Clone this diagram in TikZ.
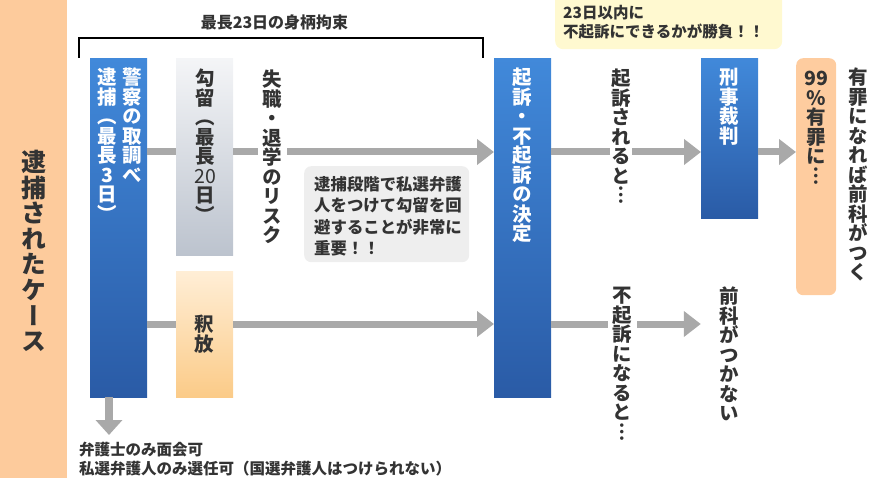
\documentclass[tikz,border=0pt]{standalone}
\usepackage{fontspec}
\setmainfont{Noto Sans CJK JP}
\newfontfamily\vjp{Noto Sans CJK JP}[RawFeature=+vert]
\usetikzlibrary{arrows.meta}
\newcommand\myvfont[2]{\vjp\bfseries\fontsize{#1}{#2}\selectfont\lineskiplimit-40pt\relax}
\definecolor{txt}{HTML}{333333}
\definecolor{conngray}{HTML}{A9A9A9}
\definecolor{bandorange}{HTML}{FDCB9C}
\definecolor{bluetop}{HTML}{4189DA}
\definecolor{bluebot}{HTML}{2A5BA6}
\definecolor{graytop}{HTML}{F4F5F7}
\definecolor{graybot}{HTML}{BCC3CE}
\definecolor{shakutop}{HTML}{FFEED6}
\definecolor{shakubot}{HTML}{FBCB88}
\definecolor{notegray}{HTML}{EEEEEE}
\definecolor{noteyellow}{HTML}{FFF9D0}
\definecolor{pctorange}{HTML}{FECC9F}
\tikzset{
  boxbase/.style={draw=none, inner sep=0pt, anchor=north west, minimum width=57pt},
  bluebox/.style={boxbase, top color=bluetop, bottom color=bluebot},
  graybox/.style={boxbase, top color=graytop, bottom color=graybot},
  shakubox/.style={boxbase, top color=shakutop, bottom color=shakubot},
  vtext/.style={font={\myvfont{19.5}{19.5}},
    align=center, inner sep=0pt, anchor=north, text=txt},
  vwhite/.style={vtext, text=white},
  htext/.style={font=\bfseries\fontsize{15.5}{18.5}\selectfont, align=left, inner sep=0pt,
    anchor=north west, text=txt},
  conn/.style={draw=conngray, line width=7pt},
  arr/.style={conn, -{Triangle[length=17pt,width=25pt]}},
  darr/.style={draw=conngray, line width=8pt, -{Triangle[length=15pt,width=26pt]}},
}
\begin{document}
\begin{tikzpicture}[x=1pt,y=-1pt]
\useasboundingbox (0,0) rectangle (880,478);
% left band
\node[draw=none, fill=bandorange, inner sep=0pt, anchor=north west, minimum width=67pt, minimum height=478pt] (band) at (0,0) {};
\node[vtext, font={\myvfont{25}{25.6}}] (bandtxt) at (33.5,150) {逮\\捕\\さ\\れ\\た\\ケ\\ー\\ス};

% top bracket
\node[htext, font=\bfseries\fontsize{16}{18}\selectfont, anchor=center] (toplabel) at (274.5,22) {最長23日の身柄拘束};
\coordinate (brL) at (79,58);
\coordinate (brR) at (483,58);
\draw[line width=1.2pt, black] (brL) -- (79,38) -- (483,38) -- (brR);

% yellow note
\node[draw=none, fill=noteyellow, rounded corners=8pt, inner sep=0pt, anchor=north west, minimum width=227pt, minimum height=59pt] (yellow) at (555,-10) {};
\node[htext, font=\bfseries\fontsize{15.5}{19}\selectfont] (yellowtxt) at (563,5) {23日以内に\\不起訴にできるかが勝負！！};

% boxes
\node[bluebox, minimum height=339pt] (police) at (90,58) {};
\node[graybox, minimum height=197pt] (kouryu) at (176,58) {};
\node[shakubox, minimum height=126pt] (shaku) at (176,271) {};
\node[bluebox, minimum height=339pt] (decide) at (494,58) {};
\node[bluebox, minimum height=160pt] (keiji) at (701,58) {};
\node[draw=none, fill=pctorange, rounded corners=7pt, inner sep=0pt, anchor=north west, minimum width=40pt, minimum height=237pt] (pctbox) at (796,58) {};
\node[draw=none, fill=notegray, rounded corners=7pt, inner sep=0pt, anchor=north west, minimum width=165pt, minimum height=96pt] (note) at (304,166) {};

% texts
\node[vwhite] (policeR) at (132,68) {警\\察\\の\\取\\調\\べ};
\node[vwhite] (policeL) at (107,68) {逮\\捕\\（\\最\\長\\3\\日\\）};
\node[vtext] (kouryutxt) at (205,69) {勾\\留\\（\\最\\長\\{\mdseries 20}\\日\\）};
\node[vtext, minimum width=29pt] (risk) at (272.5,70) {失\\職\\・\\退\\学\\の\\リ\\ス\\ク};
\node[vtext, anchor=center] (shakutxt) at (shaku.center) {釈\\放};
\node[vwhite] (decidetxt) at (522.5,68) {起\\訴\\・\\不\\起\\訴\\の\\決\\定};
\node[vtext, minimum width=22pt] (kiso) at (621,69) {起\\訴\\さ\\れ\\る\\と\\︙};
\node[vwhite] (keijitxt) at (729.5,68) {刑\\事\\裁\\判};
\node[vtext] (pcttxt) at (816,71) {99\\％\\有\\罪\\に\\︙};
\node[vtext] (yuzai) at (858,68) {有\\罪\\に\\な\\れ\\ば\\前\\科\\が\\つ\\く};
\node[vtext, minimum width=29pt] (fukiso) at (622.5,287) {不\\起\\訴\\に\\な\\る\\と\\︙};
\node[vtext, minimum width=57pt] (zenka) at (729.5,287) {前\\科\\が\\つ\\か\\な\\い};

\node[htext, font=\bfseries\fontsize{16.4}{21.5}\selectfont] (notetxt) at (314,176) {逮捕段階で私選弁護\\人をつけて勾留を回\\避することが非常に\\重要！！};
\node[htext] (bottomtxt) at (79,442) {弁護士のみ面会可\\私選弁護人のみ選任可（国選弁護人はつけられない）};

% connectors
\coordinate (rowA) at (0,152);
\coordinate (rowB) at (0,324);
\coordinate (downX) at (109,0);
\coordinate (downEnd) at (109,435);
\draw[conn] (police.east |- rowA) -- (kouryu.west |- rowA);
\draw[conn] (kouryu.east |- rowA) -- (risk.west |- rowA);
\draw[arr] (risk.east |- rowA) -- (decide.west |- rowA);
\draw[conn] (police.east |- rowB) -- (shaku.west |- rowB);
\draw[arr] (shaku.east |- rowB) -- (decide.west |- rowB);
\draw[conn] (decide.east |- rowA) -- (kiso.west |- rowA);
\draw[arr] (kiso.east |- rowA) -- (keiji.west |- rowA);
\draw[arr] (keiji.east |- rowA) -- (pctbox.west |- rowA);
\draw[conn] (decide.east |- rowB) -- (fukiso.west |- rowB);
\draw[arr] (fukiso.east |- rowB) -- (zenka.west |- rowB);
\draw[darr] (downX |- police.south) -- (downEnd);
\end{tikzpicture}
\end{document}
